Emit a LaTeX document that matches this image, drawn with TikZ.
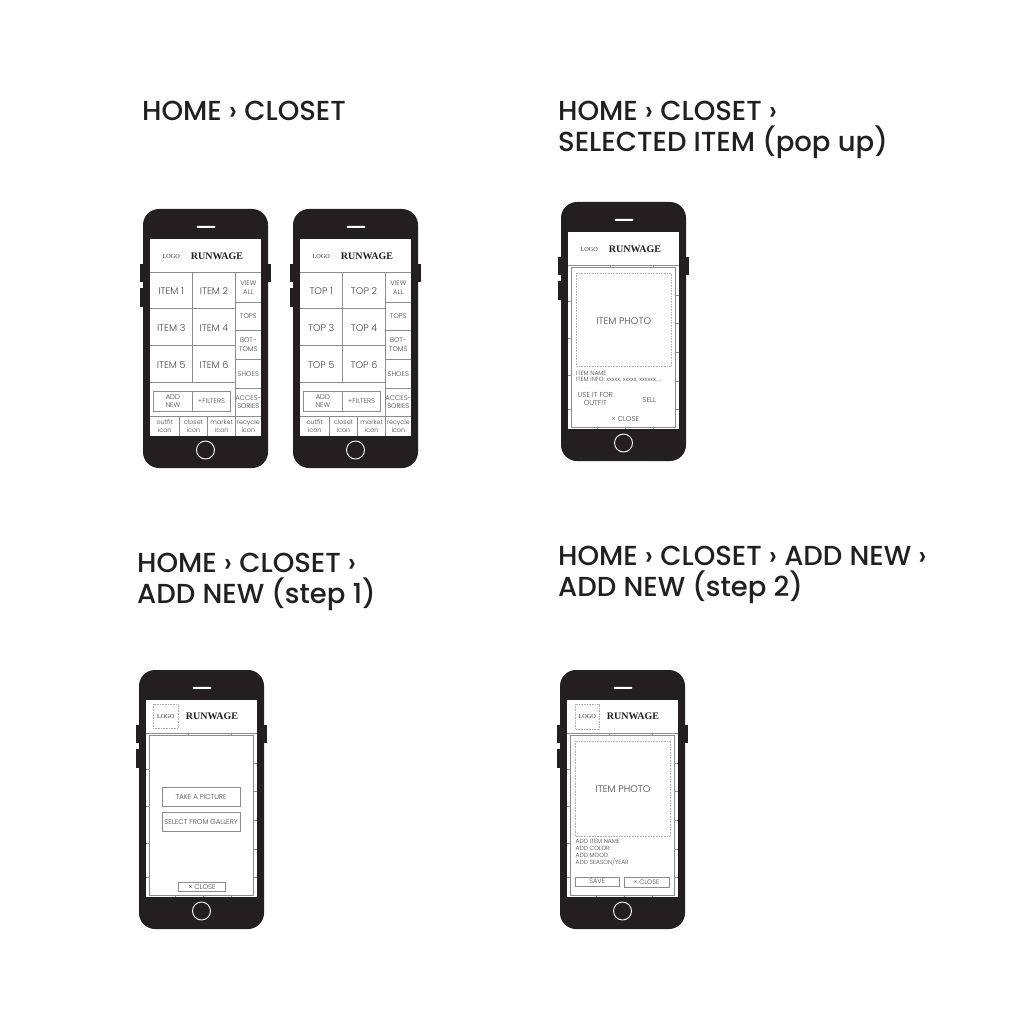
\documentclass[tikz,border=0pt]{standalone}
\usepackage{fontspec}
\setmainfont{Poppins}
\newfontfamily\titlefont{Poppins Medium}
\newfontfamily\uifont{Poppins Light}
\newfontfamily\brandfont{Liberation Serif}
\definecolor{phoneink}{HTML}{231F20}
\definecolor{lineink}{HTML}{8C8C8C}
\definecolor{uitext}{HTML}{474747}
\tikzset{
  ink/.style={draw=lineink, line width=0.55pt},
  dashbox/.style={draw=lineink!70, line width=0.45pt, dash pattern=on 0.8pt off 0.8pt},
  popbox/.style={draw=lineink, line width=0.7pt, fill=white},
  ui/.style={inner sep=0pt, text=uitext, align=center, font=\uifont\fontsize{6.8}{8.6}\selectfont},
  uibig/.style={ui, font=\uifont\fontsize{9.6}{11}\selectfont},
  uismall/.style={ui, font=\uifont\fontsize{6.4}{7.8}\selectfont},
  uitiny/.style={ui, anchor=west, align=left, font=\uifont\fontsize{6}{7}\selectfont},
  btn/.style={ui, draw=lineink, line width=0.55pt, font=\uifont\fontsize{7}{8}\selectfont},
  brand/.style={inner sep=0pt, text=black!88, font=\brandfont\bfseries\fontsize{10}{12}\selectfont},
  logo/.style={inner sep=0pt, text=black!80, font=\brandfont\fontsize{6.2}{7}\selectfont},
  title/.style={inner sep=0pt, anchor=base west, text=phoneink, font=\titlefont\fontsize{27.5}{31}\selectfont},
  pics/phone/.style={code={
    \fill[phoneink] (-3,55) rectangle (1,73);
    \fill[phoneink] (-3,79) rectangle (1,98);
    \fill[phoneink] (124,55) rectangle (127.5,73);
    \fill[phoneink, rounded corners=16pt] (0,0) rectangle (125,259);
    \fill[white, rounded corners=1pt] (53.5,16.8) rectangle (72.5,18.8);
    \draw[white, line width=0.9pt] (62.5,241) circle (9pt);
    \fill[white] (7,30) rectangle (118,227);
  }},
  pics/grid/.style={code={
    \draw[ink] (0,33) -- (111,33);
    \draw[ink] (85.7,33) -- (85.7,197);
    \draw[ink] (42.3,33) -- (42.3,143.7);
    \foreach \yy in {69.7,106.3,143.7} \draw[ink] (0,\yy) -- (85.7,\yy);
    \foreach \yy in {63.7,91.3,120.3,149.3} \draw[ink] (85.7,\yy) -- (111,\yy);
    \draw[ink] (0,177) -- (111,177);
    \foreach \xx in {29.3,57.7} \draw[ink] (\xx,177) -- (\xx,197);
  }},
  pics/header/.style={code={
    \node[logo] (-logo) at (21.3,17) {LOGO};
    \node[brand] (-brand) at (67,17) {RUNWAGE};
  }},
  pics/closet/.style={code={
    \pic {grid};
    \pic (-hd) {header};
    \draw[ink] (3.3,152) rectangle (80.7,172);
    \draw[ink] (42.3,152) -- (42.3,172);
    \node[uibig] (-c1) at (21.2,52.3) {#1 1};
    \node[uibig] (-c2) at (64,52.3) {#1 2};
    \node[uibig] (-c3) at (21.2,89) {#1 3};
    \node[uibig] (-c4) at (64,89) {#1 4};
    \node[uibig] (-c5) at (21.2,126) {#1 5};
    \node[uibig] (-c6) at (64,126) {#1 6};
    \node[ui] (-r1) at (98.3,48.4) {VIEW\\ALL};
    \node[ui] (-r2) at (98.3,77.5) {TOPS};
    \node[ui] (-r3) at (98.3,105.8) {BOT-\\TOMS};
    \node[ui] (-r4) at (98.3,134.8) {SHOES};
    \node[ui] (-r5) at (98.3,163.2) {ACCES-\\SORIES};
    \node[ui] (-add) at (22.8,162) {ADD\\NEW};
    \node[ui] (-filt) at (61.5,162) {+FILTERS};
    \node[uismall] (-n1) at (14.7,187) {outfit\\icon};
    \node[uismall] (-n2) at (43.5,187) {closet\\icon};
    \node[uismall] (-n3) at (71.7,187) {market\\icon};
    \node[uismall] (-n4) at (98.3,187) {recycle\\icon};
  }},
  pics/popbase/.style={code={
    \pic {grid};
    \filldraw[popbox] (3.3,35) rectangle (107.7,195.6);
  }},
}
\begin{document}
\begin{tikzpicture}[x=1pt, y=-1pt]
\useasboundingbox (0,0) rectangle (1024,1024);
\fill[white] (0,0) rectangle (1024,1024);

% titles
\node[title] (t1) at (142,121) {HOME › CLOSET};
\node[title] (t2a) at (558,121) {HOME › CLOSET ›};
\node[title] (t2b) at (558,152) {SELECTED ITEM (pop up)};
\node[title] (t3a) at (137,572) {HOME › CLOSET ›};
\node[title] (t3b) at (137,603) {ADD NEW (step 1)};
\node[title] (t4a) at (558,565) {HOME › CLOSET › ADD NEW ›};
\node[title] (t4b) at (558,596) {ADD NEW (step 2)};

% phones
\pic (p1) at (143,209) {phone};
\pic (p2) at (293,209) {phone};
\pic (p3) at (561,202) {phone};
\pic (p4) at (139,670) {phone};
\pic (p5) at (560,670) {phone};

% closet screens
\pic (s1) at (150,239) {closet=ITEM};
\pic (s2) at (300,239) {closet=TOP};

% selected item popup
\begin{scope}[shift={(568,232)}]
  \pic (s3) {popbase};
  \pic (s3h) {header};
  \draw[dashbox] (8,41) rectangle (103.3,134);
  \node[uibig] (s3photo) at (55.7,89) {ITEM PHOTO};
  \node[uitiny] (s3name) at (8,141.5) {ITEM NAME};
  \node[uitiny] (s3info) at (8,148) {ITEM INFO: xxxxx, xxxxx, xxxxxx, ...};
  \node[ui, font=\uifont\fontsize{7.2}{8.4}\selectfont] (s3use) at (27.3,167.2) {USE IT FOR\\OUTFIT};
  \node[ui, font=\uifont\fontsize{7.2}{8.4}\selectfont] (s3sell) at (81.3,168) {SELL};
  \node[ui, font=\uifont\fontsize{7}{8}\selectfont] (s3close) at (57.3,187) {× CLOSE};
\end{scope}

% add new step 1
\begin{scope}[shift={(146,700)}]
  \pic (s4) {popbase};
  \draw[dashbox] (7.3,4) rectangle (32.3,28.3);
  \node[logo] (s4logo) at (19.8,16.2) {LOGO};
  \node[brand] (s4brand) at (66,16.5) {RUNWAGE};
  \node[btn, minimum width=77.7pt, minimum height=19pt] (s4take) at (55.15,97.2) {TAKE A PICTURE};
  \node[btn, minimum width=77.7pt, minimum height=19pt] (s4sel) at (55.15,122.2) {SELECT FROM GALLERY};
  \node[btn, minimum width=47.4pt, minimum height=9.4pt] (s4close) at (56,187) {× CLOSE};
\end{scope}

% add new step 2
\begin{scope}[shift={(567,700)}]
  \pic (s5) {popbase};
  \draw[dashbox] (8.4,4) rectangle (32,29);
  \node[logo] (s5logo) at (20.2,16.5) {LOGO};
  \node[brand] (s5brand) at (66,16.5) {RUNWAGE};
  \draw[dashbox] (8.4,41) rectangle (103.7,136.7);
  \node[uibig] (s5photo) at (56,89) {ITEM PHOTO};
  \node[uitiny] (s5l1) at (8.4,141) {ADD ITEM NAME};
  \node[uitiny] (s5l2) at (8.4,148) {ADD COLOR};
  \node[uitiny] (s5l3) at (8.4,155) {ADD MOOD};
  \node[uitiny] (s5l4) at (8.4,162) {ADD SEASON/YEAR};
  \node[btn, minimum width=43.6pt, minimum height=8.6pt, font=\uifont\fontsize{6.6}{7}\selectfont] (s5save) at (30.2,181.5) {SAVE};
  \node[btn, minimum width=45pt, minimum height=9.6pt, font=\uifont\fontsize{6.6}{7}\selectfont] (s5close) at (79.5,182) {× CLOSE};
\end{scope}
\end{tikzpicture}
\end{document}
